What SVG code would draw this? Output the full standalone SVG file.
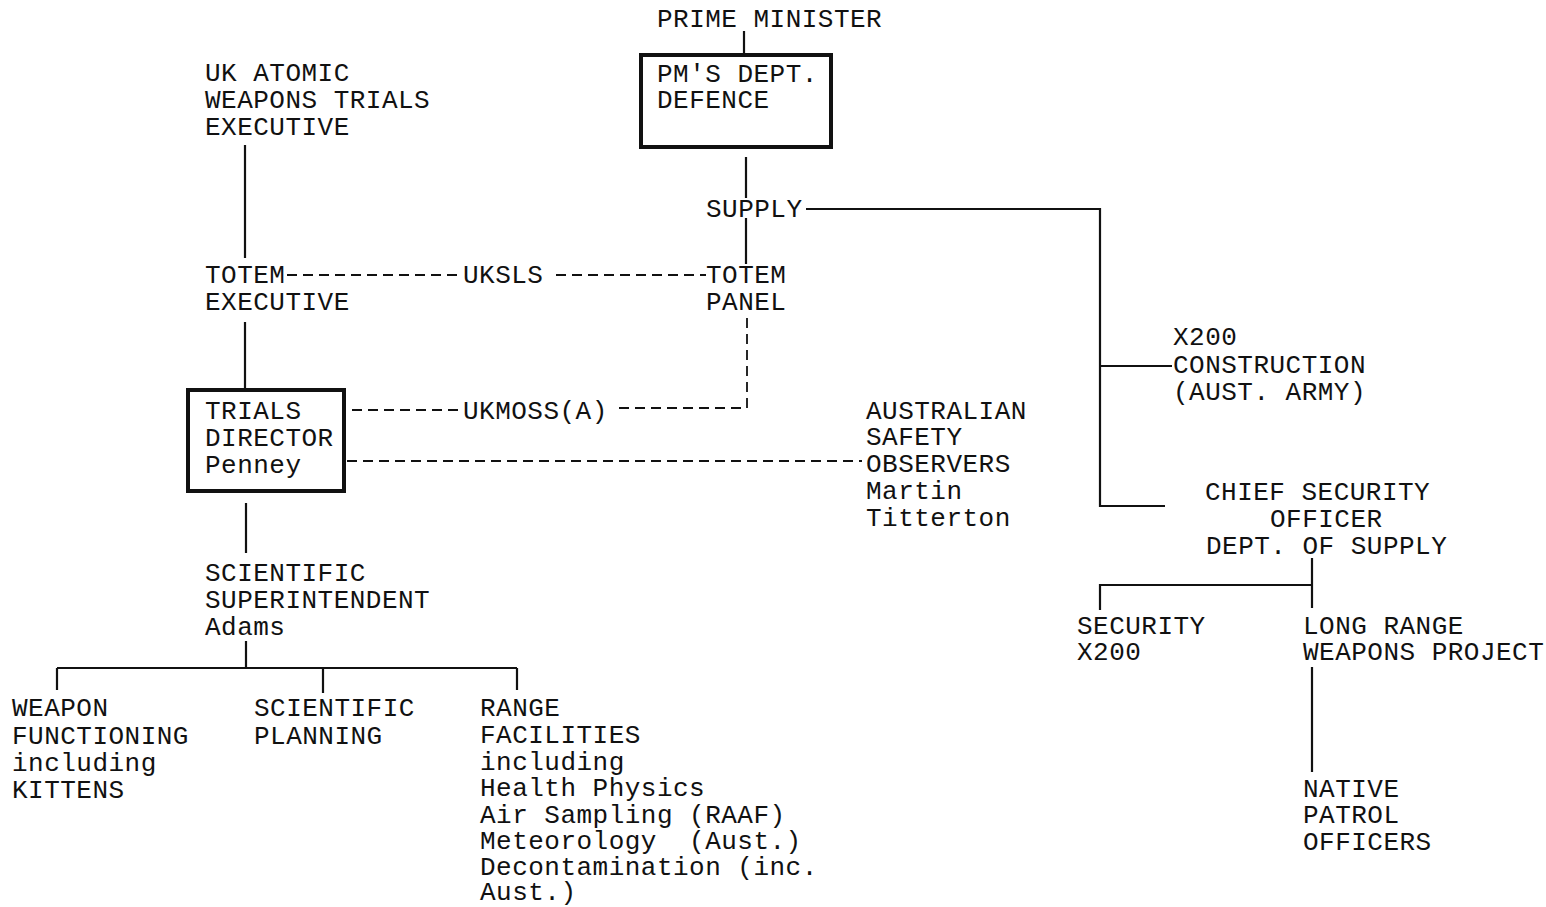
<svg xmlns="http://www.w3.org/2000/svg" width="1546" height="907" viewBox="0 0 1546 907">
<style>
text{font-family:"Liberation Mono","Courier New",monospace;font-size:26px;letter-spacing:0.48px;fill:#111}
.ln{stroke:#111;stroke-width:2.2;fill:none}
.ds{stroke:#111;stroke-width:1.8;fill:none;stroke-dasharray:10 6}
.box{stroke:#111;stroke-width:4;fill:none}
</style>
<rect width="1546" height="907" fill="#fff"/>
<g id="connectors">
<path class="ln" d="M744 31V55"/>
<path class="ln" d="M746 157V198M746 218V264"/>
<path class="ln" d="M806 209H1100V506H1165M1100 366H1172"/>
<path class="ln" d="M245 145V258M245 322V390"/>
<path class="ds" d="M287 275H460M556 275H706"/>
<path class="ds" d="M747 318V408H615M458 410H347"/>
<path class="ds" d="M347 461H862"/>
<path class="ln" d="M246 503V553"/>
<path class="ln" d="M246 641V668M57 668H517M57 668V690M323 668V693M517 668V690"/>
<path class="ln" d="M1312 558V608M1312 585H1100V610M1312 667V772"/>
</g>
<g id="prime-minister"><text x="657" y="27">PRIME MINISTER</text></g>
<g id="pm-dept"><rect class="box" x="641" y="55" width="190" height="92"/><text x="657" y="82">PM'S DEPT.</text><text x="657" y="108">DEFENCE</text></g>
<g id="uk-atomic"><text x="205" y="81">UK ATOMIC</text><text x="205" y="108">WEAPONS TRIALS</text><text x="205" y="135">EXECUTIVE</text></g>
<g id="supply"><text x="706" y="217">SUPPLY</text></g>
<g id="totem-exec"><text x="205" y="283">TOTEM</text><text x="205" y="310">EXECUTIVE</text></g>
<g id="uksls"><text x="463" y="283">UKSLS</text></g>
<g id="totem-panel"><text x="706" y="283">TOTEM</text><text x="706" y="310">PANEL</text></g>
<g id="x200-construction"><text x="1173" y="345">X200</text><text x="1173" y="373">CONSTRUCTION</text><text x="1173" y="400">(AUST. ARMY)</text></g>
<g id="trials-director"><rect class="box" x="188" y="390" width="156" height="101"/><text x="205" y="419">TRIALS</text><text x="205" y="446">DIRECTOR</text><text x="205" y="473">Penney</text></g>
<g id="ukmoss"><text x="463" y="419">UKMOSS(A)</text></g>
<g id="australian-observers"><text x="866" y="419">AUSTRALIAN</text><text x="866" y="445">SAFETY</text><text x="866" y="472">OBSERVERS</text><text x="866" y="499">Martin</text><text x="866" y="526">Titterton</text></g>
<g id="chief-security"><text x="1205" y="500">CHIEF SECURITY</text><text x="1270" y="527">OFFICER</text><text x="1206" y="554">DEPT. OF SUPPLY</text></g>
<g id="sci-super"><text x="205" y="581">SCIENTIFIC</text><text x="205" y="608">SUPERINTENDENT</text><text x="205" y="635">Adams</text></g>
<g id="security-x200"><text x="1077" y="634">SECURITY</text><text x="1077" y="660">X200</text></g>
<g id="long-range"><text x="1303" y="634">LONG RANGE</text><text x="1303" y="660">WEAPONS PROJECT</text></g>
<g id="weapon-functioning"><text x="12" y="716">WEAPON</text><text x="12" y="744">FUNCTIONING</text><text x="12" y="771">including</text><text x="12" y="798">KITTENS</text></g>
<g id="sci-planning"><text x="254" y="716">SCIENTIFIC</text><text x="254" y="744">PLANNING</text></g>
<g id="range-facilities"><text x="480" y="716">RANGE</text><text x="480" y="743">FACILITIES</text><text x="480" y="770">including</text><text x="480" y="796">Health Physics</text><text x="480" y="823">Air Sampling (RAAF)</text><text x="480" y="849" xml:space="preserve">Meteorology  (Aust.)</text><text x="480" y="875">Decontamination (inc.</text><text x="480" y="900">Aust.)</text></g>
<g id="native-patrol"><text x="1303" y="797">NATIVE</text><text x="1303" y="823">PATROL</text><text x="1303" y="850">OFFICERS</text></g>
</svg>
